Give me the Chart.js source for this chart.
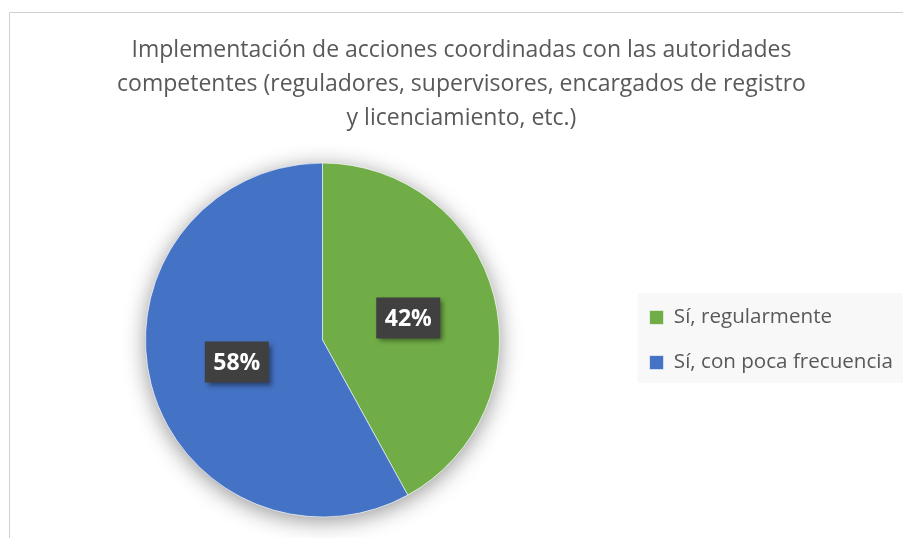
<!DOCTYPE html>
<html>
<head>
<meta charset="utf-8">
<script src="https://cdn.jsdelivr.net/npm/chart.js@4"></script>
<style>
  html, body { margin: 0; padding: 0; background: #fff; }
  #wrap { width: 903px; height: 538px; position: relative; }
</style>
</head>
<body>
<div id="wrap"><canvas id="pieChart"></canvas></div>
<script>
// datos del gráfico
var titleLines = [
    'Implementación de acciones coordinadas con las autoridades',
    'competentes (reguladores, supervisores, encargados de registro',
    'y licenciamiento, etc.)'
];
var categories = ['Sí, regularmente', 'Sí, con poca frecuencia'];
var values = [42, 58];
var sliceColors = ['#70ad47', '#4472c4'];

// marco gris (solo borde izq. y superior visibles) + fondo de la leyenda
var framePlugin = {
    id: 'frame',
    beforeDraw: function (chart) {
        var ctx = chart.ctx;
        ctx.save();
        ctx.fillStyle = '#fff';
        ctx.fillRect(0, 0, chart.width, chart.height);
        ctx.strokeStyle = '#cfcfcf';
        ctx.lineWidth = 1;
        ctx.beginPath();
        ctx.moveTo(9.5, chart.height);
        ctx.lineTo(9.5, 12.5);
        ctx.lineTo(chart.width, 12.5);
        ctx.stroke();
        var hb = chart.legend ? chart.legend.legendHitBoxes : [];
        if (hb && hb.length) {
            var last = hb[hb.length - 1];
            var x0 = hb[0].left - 12;
            var y0 = hb[0].top - 14;
            var y1 = last.top + last.height + 10;
            ctx.fillStyle = '#f8f8f8';
            ctx.fillRect(x0, y0, chart.width - x0, y1 - y0);
        }
        ctx.restore();
    }
};

// sombra suave alrededor del pastel
var shadowPlugin = {
    id: 'pieShadow',
    beforeDatasetsDraw: function (chart) {
        var arc = chart.getDatasetMeta(0).data[0];
        if (!arc) return;
        var ctx = chart.ctx;
        ctx.save();
        ctx.shadowColor = 'rgba(0,0,0,0.42)';
        ctx.shadowBlur = 22;
        ctx.shadowOffsetY = 4;
        ctx.fillStyle = '#fff';
        ctx.beginPath();
        ctx.arc(arc.x, arc.y, arc.outerRadius, 0, Math.PI * 2);
        ctx.fill();
        ctx.restore();
    }
};

// etiquetas de porcentaje en cajas oscuras
var labelPlugin = {
    id: 'pctLabels',
    afterDatasetsDraw: function (chart) {
        var ctx = chart.ctx;
        var data = chart.data.datasets[0].data;
        var total = data.reduce(function (a, b) { return a + b; }, 0);
        chart.getDatasetMeta(0).data.forEach(function (arc, i) {
            var p = arc.getCenterPoint();
            var txt = Math.round(data[i] / total * 100) + '%';
            var w = 64, h = 41;
            ctx.save();
            ctx.shadowColor = 'rgba(0,0,0,0.45)';
            ctx.shadowBlur = 5;
            ctx.shadowOffsetX = 3;
            ctx.shadowOffsetY = 3;
            ctx.fillStyle = '#404040';
            ctx.fillRect(p.x - w / 2, p.y - h / 2, w, h);
            ctx.restore();
            ctx.save();
            ctx.font = 'bold 23px "Open Sans"';
            ctx.fillStyle = '#fff';
            ctx.textAlign = 'center';
            ctx.textBaseline = 'middle';
            ctx.fillText(txt, p.x, p.y + 1);
            ctx.restore();
        });
    }
};

function createChart() {
    Chart.defaults.font.family = '"Open Sans"';
    var ctx = document.getElementById('pieChart').getContext('2d');
    new Chart(ctx, {
        type: 'pie',
        data: {
            labels: categories,
            datasets: [{
                data: values,
                backgroundColor: sliceColors,
                borderColor: 'rgba(255,255,255,0.6)',
                borderWidth: 1,
                hoverOffset: 0
            }]
        },
        options: {
            responsive: true,
            maintainAspectRatio: false,
            animation: false,
            events: [],
            radius: 177,
            layout: { padding: { left: 20, right: 0, top: 0, bottom: 21 } },
            plugins: {
                title: {
                    display: true,
                    text: titleLines,
                    color: '#595959',
                    font: { size: 23, weight: 'normal', lineHeight: 34 / 23 },
                    padding: { top: 33, bottom: 28 }
                },
                legend: {
                    position: 'right',
                    fullSize: false,
                    labels: {
                        color: '#595959',
                        font: { size: 20.6 },
                        boxWidth: 14,
                        boxHeight: 14,
                        padding: 24.5
                    }
                },
                tooltip: { enabled: false }
            }
        },
        plugins: [framePlugin, shadowPlugin, labelPlugin]
    });
}

if (document.fonts && document.fonts.load) {
    Promise.all([
        document.fonts.load('23px "Open Sans"'),
        document.fonts.load('bold 23px "Open Sans"')
    ]).then(createChart, createChart);
} else {
    createChart();
}
</script>
</body>
</html>
